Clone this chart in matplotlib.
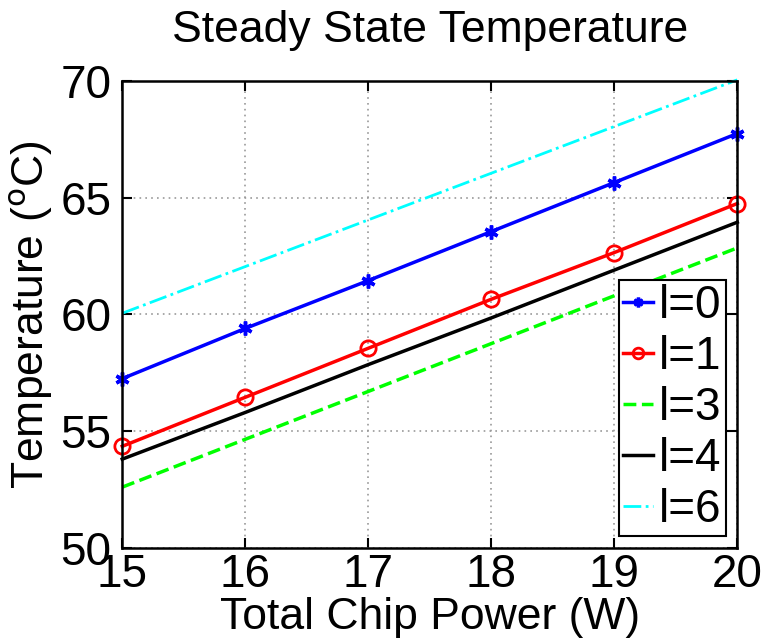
import matplotlib
matplotlib.use('Agg')
import matplotlib.pyplot as plt
import numpy as np

plt.rcParams['font.family'] = ['Liberation Sans', 'DejaVu Sans']

power = [15, 16, 17, 18, 19, 20]
temp_l0 = [57.25, 59.4, 61.45, 63.55, 65.65, 67.75]
temp_l1 = [54.35, 56.45, 58.55, 60.65, 62.65, 64.75]
temp_l3 = [52.6, 54.65, 56.7, 58.75, 60.8, 62.85]
temp_l4 = [53.8, 55.8, 57.85, 59.85, 61.9, 63.95]
temp_l6 = [60.05, 62.05, 64.05, 66.05, 68.05, 70.05]

fig = plt.figure(figsize=(7.64, 6.43), dpi=100)
ax = fig.add_axes([0.160, 0.148, 0.805, 0.726])

ax.plot(power, temp_l0, '-', color='#0000ff', marker=(6, 2, 0), markersize=10,
        markeredgewidth=2.5, linewidth=2.5, label='l=0', clip_on=False)
ax.plot(power, temp_l1, '-', color='#ff0000', marker='o', markersize=11,
        markerfacecolor='none', markeredgewidth=2, linewidth=2.5, label='l=1', clip_on=False)
ax.plot(power, temp_l3, '--', color='#00ff00', linewidth=2.5, label='l=3', clip_on=False)
ax.plot(power, temp_l4, '-', color='black', linewidth=2.5, label='l=4', clip_on=False)
ax.plot(power, temp_l6, '-.', color='#00ffff', linewidth=2, label='l=6', clip_on=False)

ax.set_xlim(15, 20)
ax.set_ylim(50, 70)
ax.set_xticks(np.arange(15, 21, 1))
ax.set_yticks(np.arange(50, 71, 5))
ax.grid(True, linestyle=(0, (1, 2.5)), color='#999999', linewidth=1.2)
ax.tick_params(direction='in', length=7, width=1.5, labelsize=33, top=True, right=True, pad=4)
ax.tick_params(axis='y', pad=8)
for sp in ax.spines.values():
    sp.set_linewidth(1.8)

ax.set_title('Steady State Temperature', fontsize=32, pad=28)
ax.set_xlabel('Total Chip Power (W)', fontsize=32, labelpad=0)
ax.set_ylabel('Temperature ($^{\\mathrm{o}}$C)', fontsize=32, labelpad=4)

leg = ax.legend(loc='lower right', fontsize=33, fancybox=False, framealpha=1,
                edgecolor='black', handlelength=0.65, handletextpad=0.12,
                borderaxespad=0.25, labelspacing=0.15, borderpad=0.1,
                markerscale=0.7)
leg.get_frame().set_linewidth(1.5)

fig.savefig('out.png', dpi=100)
